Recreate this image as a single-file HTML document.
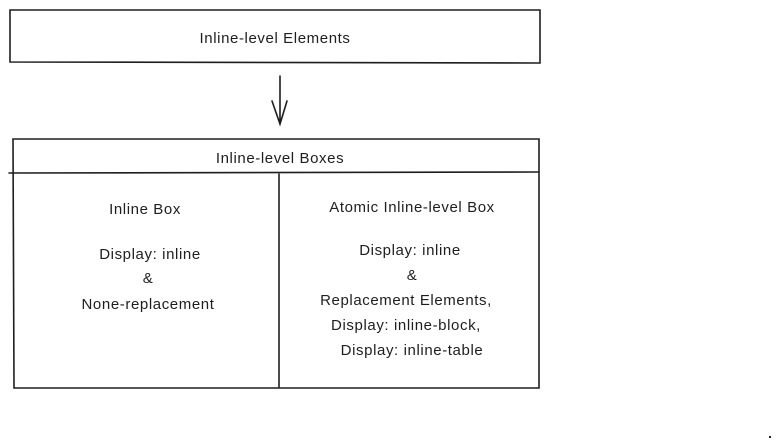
<!DOCTYPE html>
<html><head><meta charset="utf-8"><style>
html,body{margin:0;padding:0;background:#fff;}
svg{display:block}
text{font-family:"Liberation Sans",sans-serif;font-size:15px;letter-spacing:0.6px;fill:#1e1e1e;text-anchor:middle}
</style></head><body>
<svg width="781" height="446" viewBox="0 0 781 446" xmlns="http://www.w3.org/2000/svg">
<g fill="none" stroke="#1e1e1e" stroke-width="1.6" stroke-linecap="round">
<path d="M10 10 L540 10 L540 63 L10 62 Z"/>
<path d="M280 76 L280 124 M272 101 L280 124 L287 101"/>
<path d="M13 139 L539 139 L539 388 L14 388 Z"/>
<path d="M9 173 L539 172"/>
<path d="M279 174 L279 387"/>
</g>
<rect x="769" y="436" width="2" height="2" fill="#1e1e1e"/>
<text x="275" y="43">Inline-level Elements</text>
<text x="280" y="163">Inline-level Boxes</text>
<text x="145" y="214">Inline Box</text>
<text x="150" y="259">Display: inline</text>
<text x="148" y="283">&amp;</text>
<text x="148" y="309">None-replacement</text>
<text x="412" y="212">Atomic Inline-level Box</text>
<text x="410" y="255">Display: inline</text>
<text x="412" y="280">&amp;</text>
<text x="406" y="305">Replacement Elements,</text>
<text x="406" y="330">Display: inline-block,</text>
<text x="412" y="355">Display: inline-table</text>
</svg>
</body></html>
